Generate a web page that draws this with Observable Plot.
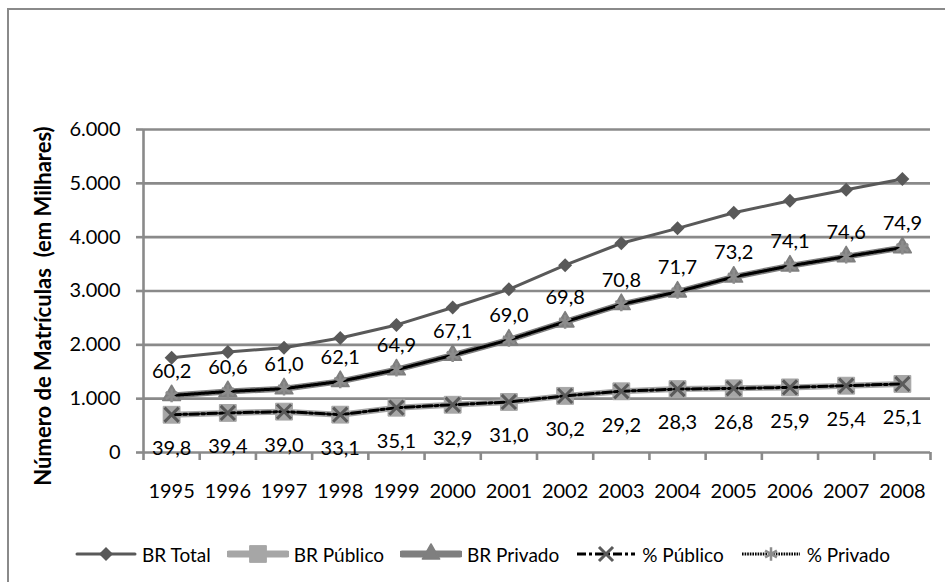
<!DOCTYPE html>
<html>
<head>
<meta charset="utf-8">
<script src="https://cdn.jsdelivr.net/npm/d3@7"></script>
<script src="https://cdn.jsdelivr.net/npm/@observablehq/plot@0.6"></script>
<style>
  html, body { margin: 0; padding: 0; background: #fff; }
  #wrap { position: relative; width: 945px; height: 582px; overflow: hidden; background: #fff; font-family: Lato, sans-serif; }
  #border { position: absolute; left: 7px; top: 8px; width: 960px; height: 600px; border: 2px solid #8a8a8a; box-sizing: border-box; }
  #chart { position: absolute; left: 0; top: 0; }
  #ytitle { position: absolute; left: 42px; top: 306px; transform: translate(-50%, -50%) rotate(-90deg); white-space: pre; font-weight: bold; font-size: 22px; color: #000; }
  #legend { position: absolute; left: 75px; top: 544px; height: 20px; display: flex; align-items: center; font-size: 19px; color: #000; white-space: nowrap; }
  #legend .item { display: flex; align-items: center; margin-right: 16px; }
  #legend svg { margin-right: 5px; }
</style>
</head>
<body>
<div id="wrap">
  <div id="border"></div>
  <div id="chart"></div>
  <div id="ytitle">Número de Matrículas  (em Milhares)</div>
  <div id="legend"></div>
</div>
<script>
// ---- data ----
const years = [1995, 1996, 1997, 1998, 1999, 2000, 2001, 2002, 2003, 2004, 2005, 2006, 2007, 2008];
const brTotal   = [1760, 1869, 1946, 2126, 2370, 2694, 3031, 3480, 3887, 4164, 4453, 4677, 4880, 5080];
const brPublico = [701, 735, 759, 703, 832, 887, 939, 1052, 1137, 1178, 1192, 1209, 1241, 1274];
const brPrivado = [1059, 1133, 1186, 1321, 1538, 1807, 2092, 2428, 2751, 2985, 3261, 3467, 3639, 3806];
const pctPublico = [39.8, 39.4, 39.0, 33.1, 35.1, 32.9, 31.0, 30.2, 29.2, 28.3, 26.8, 25.9, 25.4, 25.1];
const pctPrivado = [60.2, 60.6, 61.0, 62.1, 64.9, 67.1, 69.0, 69.8, 70.8, 71.7, 73.2, 74.1, 74.6, 74.9];
const yTicks = [0, 1000, 2000, 3000, 4000, 5000, 6000];
const seriesNames = ["BR Total", "BR Público", "BR Privado", "% Público", "% Privado"];

// ---- styles ----
const C = {
  total: "#595959", publico: "#a6a6a6", privado: "#7f7f7f",
  pctPub: "#000", pctPubMark: "#5a5a5a", pctPriv: "#000", pctPrivMark: "#8c8c8c",
  grid: "#8a8a8a"
};

const rows = years.map((yr, i) => ({
  i: i + 0.5, year: yr,
  total: brTotal[i], publico: brPublico[i], privado: brPrivado[i],
  pPub: pctPublico[i], pPriv: pctPrivado[i]
}));
const fmtPct = d => d3.format(".1f")(d).replace(".", ",");
const fmtY = d => d3.format(",")(d).replace(/,/g, ".");

const chart = Plot.plot({
  width: 945, height: 530,
  marginLeft: 143, marginRight: 15, marginTop: 129, marginBottom: 78,
  style: { fontFamily: "Lato, sans-serif", fontSize: "20px", color: "#000", background: "transparent" },
  x: { domain: [0, years.length], axis: null },
  y: { domain: [0, 6000], axis: null },
  marks: [
    Plot.ruleY(yTicks, { stroke: C.grid, strokeWidth: 2.6 }),
    Plot.ruleX([0], { y1: 0, y2: 6000, stroke: C.grid, strokeWidth: 2.6 }),
    Plot.axisY({ ticks: yTicks, tickSize: 7, tickPadding: 16, tickFormat: fmtY, stroke: C.grid, strokeWidth: 2.6, label: null }),
    Plot.axisX({ ticks: d3.range(years.length + 1), tickSize: 8, tickFormat: () => "", stroke: C.grid, strokeWidth: 2.6, label: null }),
    Plot.axisX({ ticks: rows.map(d => d.i), tickSize: 0, tickPadding: 31, tickFormat: d => String(years[Math.round(d - 0.5)]), label: null }),
    // BR Total
    Plot.line(rows, { x: "i", y: "total", stroke: C.total, strokeWidth: 3 }),
    Plot.dot(rows, { x: "i", y: "total", symbol: "diamond2", r: 6.3, fill: C.total, stroke: "none" }),
    // BR Público
    Plot.line(rows, { x: "i", y: "publico", stroke: C.publico, strokeWidth: 6 }),
    Plot.dot(rows, { x: "i", y: "publico", symbol: "square", r: 9.5, fill: C.publico, stroke: C.publico, strokeWidth: 1, strokeLinejoin: "round" }),
    // BR Privado
    Plot.line(rows, { x: "i", y: "privado", stroke: C.privado, strokeWidth: 6 }),
    Plot.dot(rows, { x: "i", y: "privado", symbol: "triangle", r: 6.6, fill: C.privado, stroke: C.privado, strokeWidth: 1.5, strokeLinejoin: "round" }),
    // % Público (drawn along BR Público)
    Plot.line(rows, { x: "i", y: "publico", stroke: C.pctPub, strokeWidth: 3, strokeDasharray: "9,3,3,3" }),
    Plot.dot(rows, { x: "i", y: "publico", symbol: "times", r: 6.5, stroke: C.pctPubMark, strokeWidth: 3 }),
    // % Privado (drawn along BR Privado)
    Plot.line(rows, { x: "i", y: "privado", stroke: C.pctPriv, strokeWidth: 3, strokeDasharray: "1.6,1" }),
    Plot.dot(rows, { x: "i", y: "privado", symbol: "asterisk", r: 6.5, stroke: C.pctPrivMark, strokeWidth: 2.5 }),
    // data labels
    Plot.text(rows, { x: "i", y: "privado", text: d => fmtPct(d.pPriv), dy: -24, fontSize: 20, fill: "#000" }),
    Plot.text(rows, { x: "i", y: "publico", text: d => fmtPct(d.pPub), dy: 34, fontSize: 20, fill: "#000" })
  ]
});
document.getElementById("chart").appendChild(chart);

// ---- legend ----
const legendDefs = [
  { name: seriesNames[0], line: C.total, lw: 3, dash: null, sym: d3.symbolDiamond2, symSize: 125, fill: C.total, stroke: "none", sw: 0 },
  { name: seriesNames[1], line: C.publico, lw: 7, dash: null, sym: d3.symbolSquare, symSize: 280, fill: C.publico, stroke: C.publico, sw: 1 },
  { name: seriesNames[2], line: C.privado, lw: 7, dash: null, sym: d3.symbolTriangle, symSize: 130, fill: C.privado, stroke: C.privado, sw: 1.5 },
  { name: seriesNames[3], line: C.pctPub, lw: 3, dash: "9,3,3,3", sym: d3.symbolTimes, symSize: 130, fill: "none", stroke: C.pctPubMark, sw: 3 },
  { name: seriesNames[4], line: C.pctPriv, lw: 3, dash: "1.6,1", sym: d3.symbolAsterisk, symSize: 130, fill: "none", stroke: C.pctPrivMark, sw: 2.5 }
];
const legend = d3.select("#legend");
legendDefs.forEach(def => {
  const item = legend.append("div").attr("class", "item");
  const svg = item.append("svg").attr("width", 62).attr("height", 22);
  svg.append("line").attr("x1", 2).attr("x2", 60).attr("y1", 11).attr("y2", 11)
    .attr("stroke", def.line).attr("stroke-width", def.lw)
    .attr("stroke-linecap", def.dash ? "butt" : "round")
    .attr("stroke-dasharray", def.dash);
  svg.append("path").attr("transform", "translate(31,11)")
    .attr("d", d3.symbol(def.sym, def.symSize)())
    .attr("fill", def.fill).attr("stroke", def.stroke).attr("stroke-width", def.sw)
    .attr("stroke-linejoin", "round");
  item.append("span").text(def.name);
});
</script>
</body>
</html>
